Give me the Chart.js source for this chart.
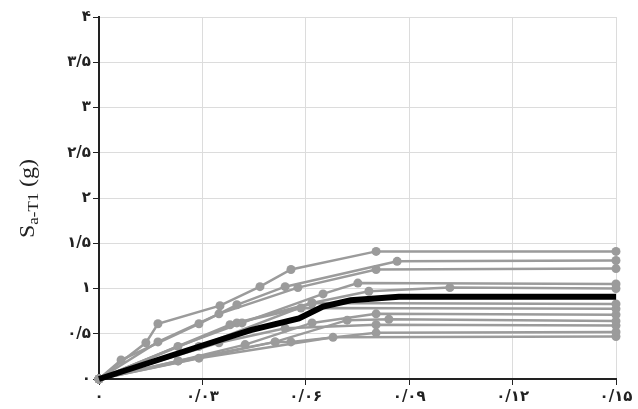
<!DOCTYPE html>
<html><head><meta charset="utf-8">
<script src="https://cdn.jsdelivr.net/npm/chart.js@4"></script>
<style>html,body{margin:0;padding:0;background:#fff}</style>
</head><body>
<canvas id="c" width="638" height="409"></canvas>
<script>
// Axis ticks
const xTickValues = [0, 0.03, 0.06, 0.09, 0.12, 0.15];
const xTickLabels = ['۰', '۰/۰۳', '۰/۰۶', '۰/۰۹', '۰/۱۲', '۰/۱۵'];
const yTickValues = [0, 0.5, 1, 1.5, 2, 2.5, 3, 3.5, 4];
const yTickLabels = ['۰', '۰/۵', '۱', '۱/۵', '۲', '۲/۵', '۳', '۳/۵', '۴'];
const yTitleMain = 'S';
const yTitleSub = 'a-T1';
const yTitleUnit = ' (g)';

// IDA curves (x: drift, y: Sa-T1 in g)
const aX = [0, 0.0136, 0.0171, 0.0351, 0.0467, 0.0557, 0.0804, 0.15];
const aY = [0, 0.40, 0.61, 0.81, 1.02, 1.21, 1.41, 1.41];
const bX = [0, 0.0064, 0.029, 0.040, 0.054, 0.0865, 0.15];
const bY = [0, 0.21, 0.61, 0.82, 1.02, 1.30, 1.31];
const cX = [0, 0.0171, 0.0348, 0.0577, 0.0804, 0.15];
const cY = [0, 0.41, 0.72, 1.01, 1.21, 1.22];
const dX = [0, 0.0229, 0.0415, 0.065, 0.0751, 0.15];
const dY = [0, 0.36, 0.62, 0.94, 1.06, 1.05];
const eX = [0, 0.029, 0.0618, 0.0783, 0.1018, 0.15];
const eY = [0, 0.36, 0.84, 0.97, 1.01, 1.00];
const fX = [0, 0.038, 0.0618, 0.15];
const fY = [0, 0.60, 0.84, 0.83];
const gX = [0, 0.040, 0.0586, 0.15];
const gY = [0, 0.62, 0.785, 0.775];
const hX = [0, 0.023, 0.0424, 0.0618, 0.0804, 0.15];
const hY = [0, 0.20, 0.38, 0.62, 0.72, 0.71];
const iX = [0, 0.0229, 0.0511, 0.072, 0.0841, 0.15];
const iY = [0, 0.20, 0.41, 0.65, 0.66, 0.64];
const jX = [0, 0.0348, 0.054, 0.0804, 0.15];
const jY = [0, 0.40, 0.56, 0.60, 0.59];
const kX = [0, 0.0511, 0.0557, 0.0804, 0.15];
const kY = [0, 0.41, 0.41, 0.51, 0.52];
const lX = [0, 0.029, 0.0679, 0.15];
const lY = [0, 0.23, 0.46, 0.47];
// Median curve
const medX = [0, 0.030, 0.044, 0.058, 0.065, 0.073, 0.080, 0.087, 0.15];
const medY = [0, 0.37, 0.54, 0.67, 0.80, 0.87, 0.89, 0.91, 0.91];

const grayCurves = [[aX,aY],[bX,bY],[cX,cY],[dX,dY],[eX,eY],[fX,fY],[gX,gY],[hX,hY],[iX,iY],[jX,jY],[kX,kY],[lX,lY]];
const toPts = (xs, ys) => xs.map((x, n) => ({x: x, y: ys[n]}));

const datasets = [{
  data: toPts(medX, medY), borderColor: '#000', backgroundColor: '#000',
  borderWidth: 6, pointRadius: 0, order: 0, clip: false
}];
grayCurves.forEach(([xs, ys]) => datasets.push({
  data: toPts(xs, ys), borderColor: '#9b9b9b', backgroundColor: '#9b9b9b',
  borderWidth: 2.5, pointRadius: 4.5, pointBorderWidth: 0, order: 1, clip: false
}));

const yTitlePlugin = {
  id: 'yTitle',
  afterDraw(chart) {
    const ctx = chart.ctx;
    ctx.save();
    ctx.translate(34, 238);
    ctx.rotate(-Math.PI / 2);
    ctx.scale(1.2, 1);
    ctx.fillStyle = '#222';
    ctx.textAlign = 'left';
    ctx.textBaseline = 'alphabetic';
    ctx.font = '20px "Liberation Serif"';
    ctx.fillText(yTitleMain, 0, 0);
    let w = ctx.measureText(yTitleMain).width;
    ctx.font = '14px "Liberation Serif"';
    ctx.fillText(yTitleSub, w, 4);
    w += ctx.measureText(yTitleSub).width;
    ctx.font = '20px "Liberation Serif"';
    ctx.fillText(yTitleUnit, w, 0);
    ctx.restore();
  }
};

const tickFont = { family: 'DejaVu Sans', size: 15, weight: 'bold' };

new Chart(document.getElementById('c'), {
  type: 'line',
  data: { datasets },
  options: {
    responsive: false, animation: false, devicePixelRatio: 1,
    layout: { padding: { left: 0, right: 22, top: 17, bottom: 0 } },
    plugins: { legend: { display: false }, tooltip: { enabled: false } },
    elements: { line: { tension: 0 } },
    scales: {
      x: {
        type: 'linear', min: 0, max: 0.15,
        afterBuildTicks: s => { s.ticks = xTickValues.map(v => ({ value: v })); },
        ticks: { callback: (v, n) => xTickLabels[n], font: tickFont, color: '#222', padding: 3, maxRotation: 0, autoSkip: false },
        grid: { color: '#dcdcdc', lineWidth: 1, tickColor: '#222', tickLength: 6 },
        border: { color: '#222', width: 2 },
        afterFit: s => { s.height = 30; }
      },
      y: {
        type: 'linear', min: 0, max: 4,
        afterBuildTicks: s => { s.ticks = yTickValues.map(v => ({ value: v })); },
        ticks: { callback: (v, n) => yTickLabels[n], font: tickFont, color: '#222', padding: 2, autoSkip: false },
        grid: { color: '#dcdcdc', lineWidth: 1, tickColor: '#222', tickLength: 6 },
        border: { color: '#222', width: 2 },
        afterFit: s => { s.width = 99; }
      }
    }
  },
  plugins: [yTitlePlugin]
});
</script>
</body></html>
